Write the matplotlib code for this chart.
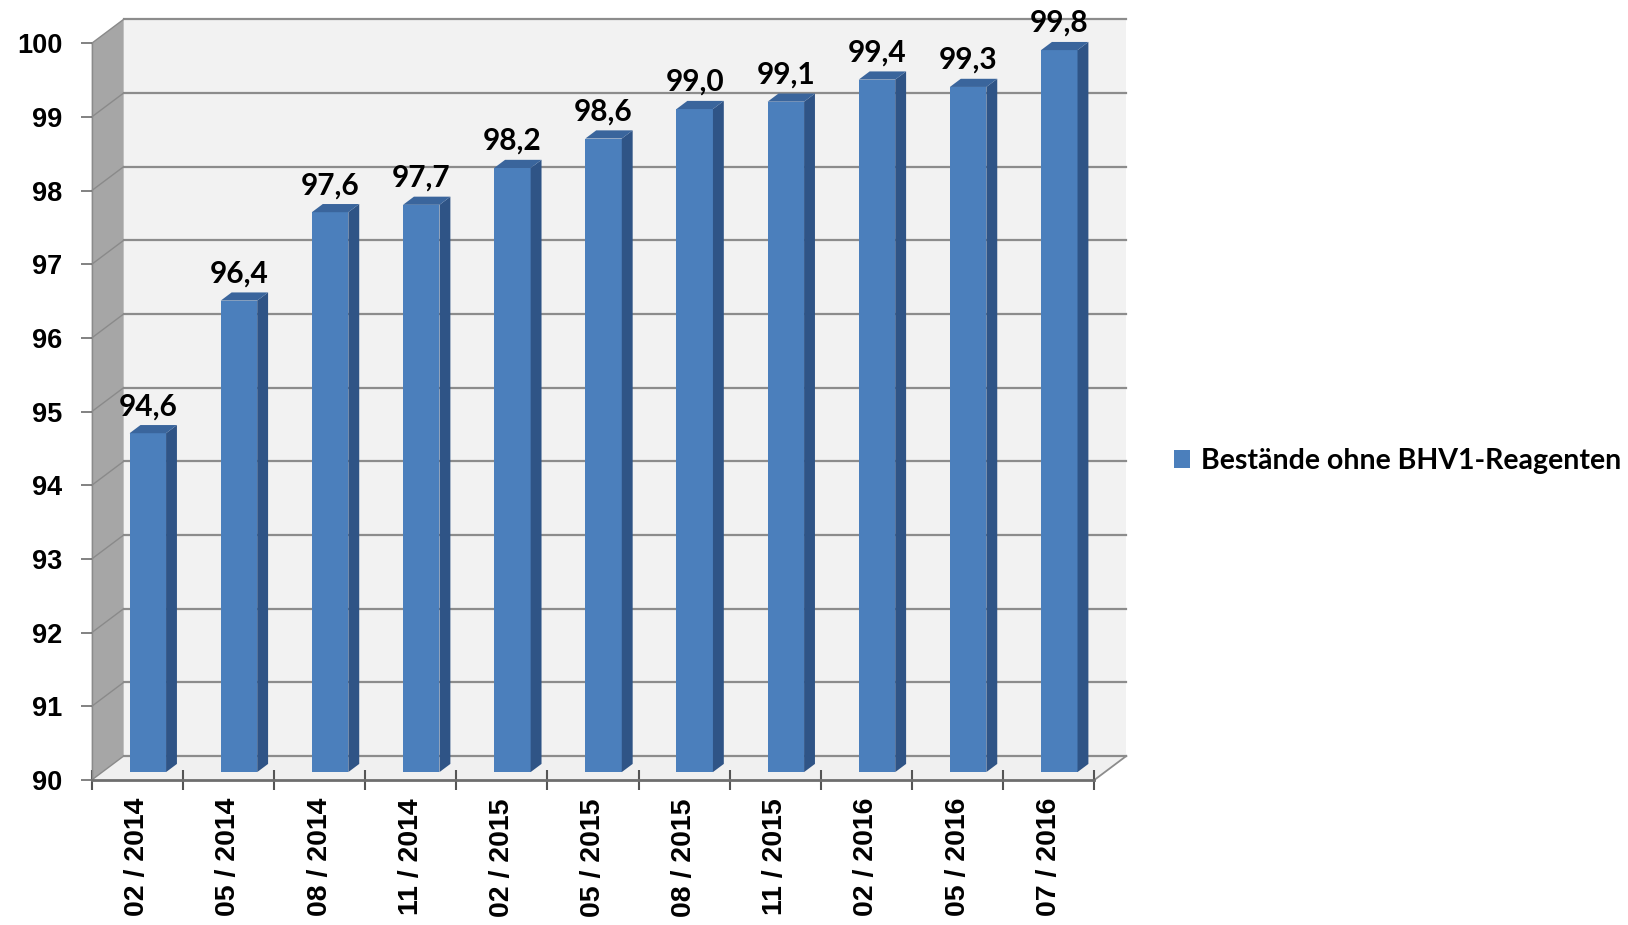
import matplotlib
matplotlib.use('Agg')
import matplotlib.pyplot as plt
from matplotlib.patches import Polygon
import numpy as np

categories = ['02 / 2014', '05 / 2014', '08 / 2014', '11 / 2014', '02 / 2015', '05 / 2015',
              '08 / 2015', '11 / 2015', '02 / 2016', '05 / 2016', '07 / 2016']
values = [94.6, 96.4, 97.6, 97.7, 98.2, 98.6, 99.0, 99.1, 99.4, 99.3, 99.8]
y_ticks = [90, 91, 92, 93, 94, 95, 96, 97, 98, 99, 100]
series_name = 'Bestände ohne BHV1-Reagenten'

fig = plt.figure(figsize=(16.28, 9.25), dpi=100)
ax = fig.add_axes([91.7 / 1628, 145 / 925, (1094.3 - 91.7) / 1628, 736.7 / 925])
n = len(categories)
ymin, ymax = y_ticks[0], y_ticks[-1]
ax.set_xlim(0, n)
ax.set_ylim(ymin, ymax)
ax.set_facecolor('none')

# depth of the pseudo-3D box in data units
DX = 32 / 91.15
DY = 24 / 73.67

# walls and floor
ax.add_patch(Polygon([(DX, ymin + DY), (n + DX, ymin + DY), (n + DX, ymax + DY), (DX, ymax + DY)],
                     closed=True, fc='#f2f2f2', ec='none', clip_on=False, zorder=0))
ax.add_patch(Polygon([(0, ymin), (DX, ymin + DY), (DX, ymax + DY), (0, ymax)],
                     closed=True, fc='#a6a6a6', ec='none', clip_on=False, zorder=0.5))
ax.add_patch(Polygon([(0, ymin), (n, ymin), (n + DX, ymin + DY), (DX, ymin + DY)],
                     closed=True, fc='#f0f0f0', ec='none', clip_on=False, zorder=0.5))
ax.plot([n, n + DX], [ymin, ymin + DY], color='#8c8c8c', lw=1.3, clip_on=False, zorder=1)

for t in y_ticks:
    ax.plot([DX, n + DX], [t + DY, t + DY], color='#8c8c8c', lw=1.6, clip_on=False, zorder=1)
    ax.plot([0, DX], [t, t + DY], color='#8a8a8a', lw=1.0, clip_on=False, zorder=1)

# bars
f0 = 0.33   # depth fraction of bar front face
bd = 0.34   # bar depth fraction
bw = 0.4
xs = np.arange(n) + 0.5 + f0 * DX
bars = ax.bar(xs, [v - ymin for v in values], bottom=ymin + f0 * DY, width=bw,
              color='#4b7fbc', zorder=3, label=series_name)

for x, v in zip(xs, values):
    xl, xr = x - bw / 2, x + bw / 2
    yb, yt = ymin + f0 * DY, v + f0 * DY
    ddx, ddy = bd * DX, bd * DY
    ax.add_patch(Polygon([(xr, yb), (xr + ddx, yb + ddy), (xr + ddx, yt + ddy), (xr, yt)],
                         closed=True, fc='#2f5486', ec='none', zorder=3, clip_on=False))
    ax.add_patch(Polygon([(xl, yt), (xr, yt), (xr + ddx, yt + ddy), (xl + ddx, yt + ddy)],
                         closed=True, fc='#3a659c', ec='none', zorder=3, clip_on=False))
    ax.annotate(f'{v:.1f}'.replace('.', ','), xy=(x, yt), xytext=(0, 13),
                textcoords='offset points', ha='center', va='baseline',
                fontsize=21.5, fontweight='bold', family='Lato', color='black', zorder=5)

# axes styling
for s in ['top', 'right']:
    ax.spines[s].set_visible(False)
ax.spines['bottom'].set_color('#6e6e6e')
ax.spines['bottom'].set_linewidth(2)
ax.spines['bottom'].set_zorder(4)
ax.spines['left'].set_color('#8a8a8a')
ax.spines['left'].set_linewidth(1)

ax.set_xticks(np.arange(n) + 0.5)
ax.set_xticklabels(categories, rotation=90, fontsize=20.5, fontweight='bold',
                   family='Liberation Sans', va='top')
ax.set_xticks(np.arange(n + 1), minor=True)
ax.tick_params(axis='x', which='major', length=0, pad=13)
ax.tick_params(axis='x', which='minor', length=14, width=1.5, direction='inout', color='#555555')

ax.set_yticks(y_ticks)
ax.set_yticklabels([str(t) for t in y_ticks], fontsize=19.5, fontweight='bold', family='Liberation Sans')
ax.tick_params(axis='y', length=8, width=1.3, direction='out', color='#777777', pad=13)

fig.legend(handles=[bars], labels=[series_name], loc='center left',
           bbox_to_anchor=(1174 / 1628, 1 - 461 / 925), frameon=False,
           borderpad=0, borderaxespad=0, handlelength=0.55, handleheight=0.55,
           handletextpad=0.4, prop=dict(family='Lato', weight='bold', size=20.5))

fig.savefig('out.png', dpi=100, facecolor='white')
